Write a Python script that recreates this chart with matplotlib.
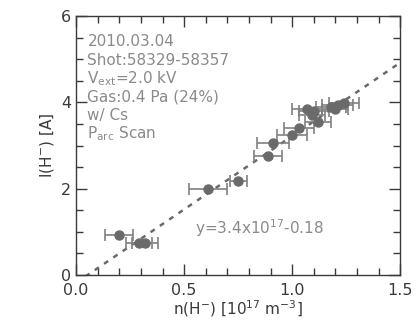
import numpy as np
import matplotlib
matplotlib.use("Agg")
import matplotlib.pyplot as plt
from matplotlib.ticker import MultipleLocator, FormatStrFormatter

# measured points (n(H-) in 1e17 m^-3, I(H-) in A)
n_h = [0.20, 0.29, 0.32, 0.61, 0.75, 0.89, 0.91, 1.00, 1.03,
       1.07, 1.09, 1.12, 1.10, 1.18, 1.21, 1.24, 1.20]
i_h = [0.92, 0.74, 0.74, 1.99, 2.18, 2.75, 3.05, 3.25, 3.40,
       3.85, 3.70, 3.55, 3.80, 3.90, 3.95, 3.98, 3.85]
n_err = [0.065, 0.06, 0.06, 0.088, 0.04, 0.065, 0.075, 0.07, 0.07,
         0.07, 0.06, 0.06, 0.07, 0.07, 0.07, 0.07, 0.06]

fit_slope = 3.4
fit_offset = -0.18

info_lines = ["2010.03.04", "Shot:58329-58357", r"V$_\mathregular{ext}$=2.0 kV",
              "Gas:0.4 Pa (24%)", "w/ Cs", r"P$_\mathregular{arc}$ Scan"]

fig = plt.figure(figsize=(4.16, 3.27), dpi=100)
ax = fig.add_axes([0.183, 0.159, 0.779, 0.792])

dark = "#3a3a3a"
grey = "#6a6a6a"

# fit line
xf = np.linspace(0, 1.5, 100)
ax.plot(xf, fit_slope * xf + fit_offset, color=grey, linestyle=(0, (2, 2.5)), lw=1.8)

ax.errorbar(n_h, i_h, xerr=n_err, fmt="o", color=grey, ms=6.5,
            ecolor="#808080", elinewidth=1.2, capsize=4, capthick=1.2)

ax.set_xlim(0, 1.5)
ax.set_ylim(0, 6)
ax.xaxis.set_major_locator(MultipleLocator(0.5))
ax.xaxis.set_minor_locator(MultipleLocator(0.1))
ax.yaxis.set_major_locator(MultipleLocator(2))
ax.yaxis.set_minor_locator(MultipleLocator(0.5))
ax.xaxis.set_major_formatter(FormatStrFormatter("%.1f"))

ax.tick_params(which="both", direction="in", top=True, right=True, colors=dark,
               labelsize=11.5, width=1.0)
ax.tick_params(which="major", length=8)
ax.tick_params(which="minor", length=5)
ax.tick_params(axis="x", which="major", pad=6)
for s in ax.spines.values():
    s.set_color(dark)
    s.set_linewidth(1.0)

ax.set_xlabel(r"n(H$^{\mathregular{-}}$) [10$^{17}$ m$^{-3}$]", fontsize=11, color=dark, labelpad=0)
ax.set_ylabel(r"I(H$^{\mathregular{-}}$) [A]", fontsize=11, color=dark, labelpad=4)

for k, line in enumerate(info_lines):
    ax.text(0.035, 0.9 - k * 0.071, line, transform=ax.transAxes, fontsize=11,
            color="#8a8a8a", va="center", ha="left")

ax.text(0.55, 1.09, r"y=3.4x10$^{17}$-0.18", fontsize=11, color="#8a8a8a",
        va="center", ha="left")

fig.savefig("out.png", dpi=100)
